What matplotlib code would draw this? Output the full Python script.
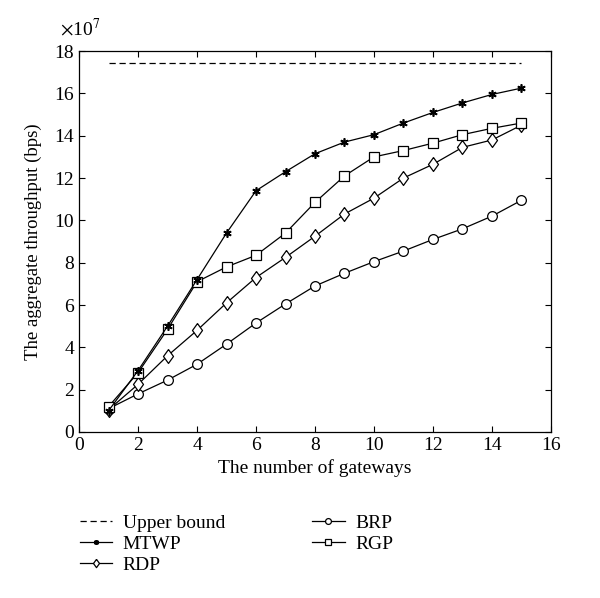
import matplotlib.pyplot as plt
from matplotlib.ticker import MultipleLocator

plt.rcParams["font.family"] = ["Liberation Serif", "DejaVu Serif"]
plt.rcParams["mathtext.fontset"] = "stix"

gateways = list(range(1, 16))
upper_bound = [17.45] * 15
mtwp = [1.0, 2.9, 5.0, 7.2, 9.4, 11.4, 12.3, 13.15, 13.7, 14.05, 14.6, 15.1, 15.55, 15.95, 16.25]
rdp = [1.05, 2.25, 3.6, 4.8, 6.1, 7.3, 8.25, 9.25, 10.3, 11.05, 12.0, 12.65, 13.45, 13.8, 14.5]
brp = [1.1, 1.8, 2.45, 3.2, 4.15, 5.15, 6.05, 6.9, 7.5, 8.05, 8.55, 9.1, 9.6, 10.2, 10.95]
rgp = [1.2, 2.8, 4.85, 7.1, 7.8, 8.35, 9.4, 10.85, 12.1, 13.0, 13.3, 13.65, 14.05, 14.35, 14.6]

fig = plt.figure(figsize=(6.0, 5.98), dpi=100)
ax = fig.add_axes([0.1317, 0.2776, 0.7866, 0.637])

# wider diamond than matplotlib's thin "d"
diamond = [(0, 1), (0.72, 0), (0, -1), (-0.72, 0), (0, 1)]

lw = 0.9
h_ub, = ax.plot(gateways, upper_bound, color="black", linestyle=(0, (5, 3)), linewidth=lw, label="Upper bound")
h_brp, = ax.plot(gateways, brp, color="black", linewidth=lw, marker="o", markersize=7,
                 markerfacecolor="white", markeredgewidth=0.9, label="BRP")
h_rdp, = ax.plot(gateways, rdp, color="black", linewidth=lw, marker=diamond, markersize=10,
                 markerfacecolor="white", markeredgewidth=0.9, label="RDP")
h_rgp, = ax.plot(gateways, rgp, color="black", linewidth=lw, marker="s", markersize=7,
                 markerfacecolor="white", markeredgewidth=0.9, label="RGP")
h_mtwp, = ax.plot(gateways, mtwp, color="black", linewidth=lw, marker=(6, 2, 0), markersize=6,
                  markeredgewidth=1.2, label="MTWP")

ax.set_xlim(0, 16)
ax.set_ylim(0, 18)
ax.xaxis.set_major_locator(MultipleLocator(2))
ax.yaxis.set_major_locator(MultipleLocator(2))
ax.tick_params(direction="in", top=True, right=True, labelsize=14, length=4, width=0.8)
for s in ax.spines.values():
    s.set_linewidth(0.9)

ax.set_xlabel("The number of gateways", fontsize=14)
ax.set_ylabel("The aggregate throughput (bps)", fontsize=13.5, labelpad=9)
ax.text(-0.04, 1.03, r"$\times$10$^7$", transform=ax.transAxes, fontsize=14,
        ha="left", va="bottom")

fig.legend([h_ub, h_mtwp, h_rdp, h_brp, h_rgp],
           ["Upper bound", "MTWP", "RDP", "BRP", "RGP"],
           ncol=2, loc="upper left", bbox_to_anchor=(0.12, 0.153), frameon=False,
           fontsize=14, handlelength=1.65, columnspacing=4.5, labelspacing=0.18,
           handletextpad=0.55, borderaxespad=0, markerscale=0.6)

fig.savefig("out.png", dpi=100)
